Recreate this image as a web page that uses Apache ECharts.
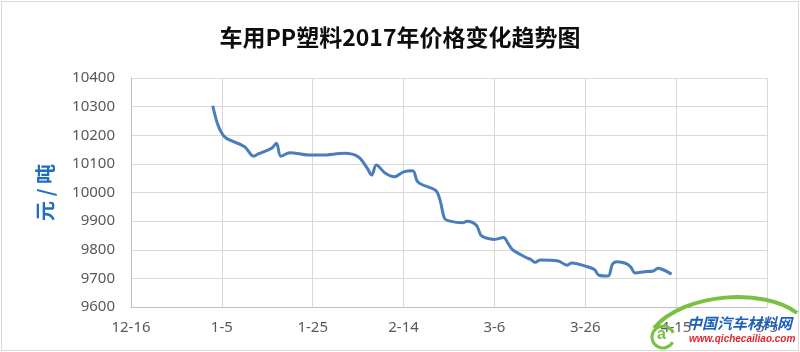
<!DOCTYPE html>
<html>
<head>
<meta charset="utf-8">
<script src="https://cdn.jsdelivr.net/npm/echarts@6/dist/echarts.min.js"></script>
<style>
html,body{margin:0;padding:0;background:#fff;}
#chart{width:800px;height:352px;}
</style>
</head>
<body>
<div id="chart"></div>
<script>
// ---- data ----
var baseDate = '2016-12-16';
var tickLabels = ['12-16', '1-5', '1-25', '2-14', '3-6', '3-26', '4-15', '5-5'];
var dates = [
  '2017-01-03','2017-01-04','2017-01-05','2017-01-06','2017-01-10','2017-01-12','2017-01-13',
  '2017-01-16','2017-01-17','2017-01-18','2017-01-20','2017-01-24','2017-01-27','2017-02-01',
  '2017-02-04','2017-02-06','2017-02-07','2017-02-08','2017-02-10','2017-02-12','2017-02-14',
  '2017-02-16','2017-02-17','2017-02-18','2017-02-21','2017-02-22','2017-02-23','2017-02-24',
  '2017-02-27','2017-02-28','2017-03-02','2017-03-03','2017-03-04','2017-03-06','2017-03-08',
  '2017-03-09','2017-03-10','2017-03-13','2017-03-14','2017-03-15','2017-03-16','2017-03-20',
  '2017-03-22','2017-03-23','2017-03-26','2017-03-28','2017-03-29','2017-03-31','2017-04-01',
  '2017-04-02','2017-04-04','2017-04-05','2017-04-06','2017-04-08','2017-04-10','2017-04-11',
  '2017-04-12','2017-04-14'
];
var prices = [
  10303,10242,10207,10189,10160,10127,10135,
  10155,10172,10127,10139,10131,10131,10137,
  10125,10085,10061,10096,10067,10055,10072,
  10076,10040,10028,10008,9975,9910,9901,
  9894,9900,9886,9851,9842,9836,9843,
  9822,9800,9773,9766,9756,9764,9761,
  9746,9754,9743,9731,9711,9708,9750,
  9758,9752,9740,9719,9723,9726,9735,
  9731,9715
];
var yMin = 9600, yMax = 10400, yStep = 100;
var xStep = 20;

function dayOffset(s) {
  var a = s.split('-'), b = baseDate.split('-');
  return Math.round((Date.UTC(+a[0], +a[1]-1, +a[2]) - Date.UTC(+b[0], +b[1]-1, +b[2])) / 86400000);
}
var seriesData = dates.map(function (d, i) { return [dayOffset(d), prices[i]]; });

var chart = echarts.init(document.getElementById('chart'), null, {renderer: 'canvas'});
var font = '"Noto Sans CJK SC", "Noto Sans", sans-serif';
chart.setOption({
  animation: false,
  backgroundColor: '#fff',
  title: {
    text: '车用PP塑料2017年价格变化趋势图',
    left: 'center',
    top: 21,
    textStyle: {fontSize: 23, fontWeight: 'bold', color: '#0d0d0d', fontFamily: font}
  },
  grid: {left: 131, right: 33, top: 78, bottom: 45, containLabel: false},
  xAxis: {
    type: 'value',
    min: 0,
    max: (tickLabels.length - 1) * xStep,
    interval: xStep,
    axisLine: {show: true, lineStyle: {color: '#bfbfbf', width: 1}},
    axisTick: {show: false},
    splitLine: {show: true, lineStyle: {color: '#d9d9d9', width: 1}},
    axisLabel: {
      color: '#595959', fontSize: 15, margin: 13, fontFamily: '"Noto Sans", sans-serif',
      formatter: function (v) { return tickLabels[Math.round(v / xStep)] || ''; }
    }
  },
  yAxis: {
    type: 'value',
    min: yMin, max: yMax, interval: yStep,
    name: '元 / 吨',
    nameLocation: 'middle',
    nameGap: 76,
    nameTextStyle: {color: '#1f6fc0', fontSize: 20, fontWeight: 'bold', fontFamily: font},
    axisLine: {show: true, lineStyle: {color: '#bfbfbf', width: 1}},
    axisTick: {show: false},
    splitLine: {show: true, lineStyle: {color: '#d9d9d9', width: 1}},
    axisLabel: {
      color: '#595959', fontSize: 15, margin: 16, fontFamily: '"Noto Sans", sans-serif',
      formatter: function (v) { return String(v); }
    }
  },
  series: [{
    type: 'line',
    data: seriesData,
    smooth: 0.35,
    showSymbol: false,
    lineStyle: {color: '#4a7ebb', width: 3}
  }],
  graphic: [
    {type: 'rect', shape: {x: 1.5, y: 1.5, width: 797, height: 349}, style: {fill: 'none', stroke: '#d9d9d9', lineWidth: 1}, z: 100},
    {type: 'bezierCurve', shape: {x1: 654, y1: 328, cpx1: 685, cpy1: 292, cpx2: 765, cpy2: 288, x2: 797, y2: 313},
      style: {stroke: '#7ac143', lineWidth: 4, fill: 'none'}, z: 100},
    {type: 'arc', shape: {cx: 663, cy: 337, r: 11, startAngle: 0.5, endAngle: 5.9},
      style: {stroke: '#7ac143', lineWidth: 3, fill: 'none'}, z: 100},
    {type: 'text', x: 657, y: 327, style: {text: 'a', fill: '#7ac143', font: 'bold 16px Arial, sans-serif'}, z: 100},
    {type: 'text', x: 687, y: 316, style: {text: '中国汽车材料网', fill: '#1d5fb8', font: 'italic bold 15px "Noto Sans CJK SC", sans-serif'}, z: 100},
    {type: 'text', x: 689, y: 334, style: {text: 'www.qichecailiao.com', fill: '#e0252b', font: 'italic bold 10px Arial, sans-serif'}, z: 100}
  ]
});
</script>
</body>
</html>
